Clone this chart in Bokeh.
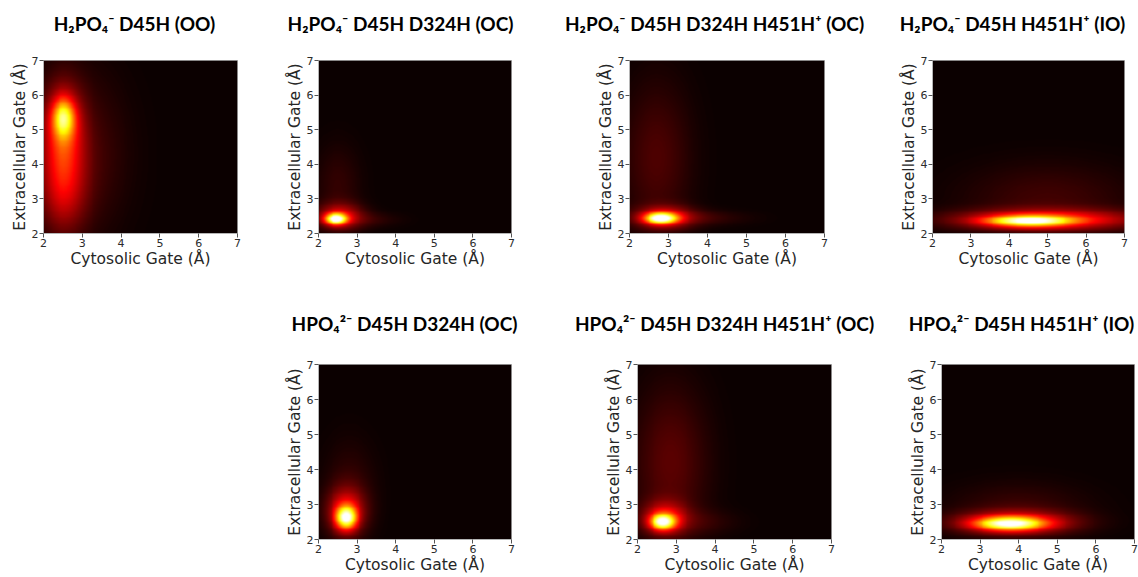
import numpy as np
from bokeh.plotting import figure
from bokeh.layouts import column, row
from bokeh.models import LinearColorMapper, FixedTicker, Label, Range1d
from bokeh.embed import file_html
from bokeh.resources import INLINE

# ---------------------------------------------------------------------------
# Data: gate-distance populations sampled in each simulation.
# Every population is (cytosolic centre, extracellular centre,
#                      cytosolic spread, extracellular spread, peak height)
# with heights on the colour scale (0 = no counts, 1 = saturated).
# ---------------------------------------------------------------------------
GATE_TICKS = [2, 3, 4, 5, 6, 7]
X_LABEL = "Cytosolic Gate (Å)"
Y_LABEL = "Extracellular Gate (Å)"

TITLES = [
    "H₂PO₄⁻ D45H (OO)",
    "H₂PO₄⁻ D45H D324H (OC)",
    "H₂PO₄⁻ D45H D324H H451H⁺ (OC)",
    "H₂PO₄⁻ D45H H451H⁺ (IO)",
    "HPO₄²⁻ D45H D324H (OC)",
    "HPO₄²⁻ D45H D324H H451H⁺ (OC)",
    "HPO₄²⁻ D45H H451H⁺ (IO)",
]

H2PO4_D45H_OO = [
    (2.52, 5.35, 0.20, 0.38, 0.48),
    (2.50, 5.00, 0.35, 0.90, 0.35),
    (2.50, 3.30, 0.40, 0.90, 0.25),
    (2.90, 4.30, 0.80, 1.60, 0.10),
]
H2PO4_D45H_D324H_OC = [
    (2.45, 2.42, 0.19, 0.11, 0.85),
    (2.55, 2.50, 0.40, 0.25, 0.30),
    (2.50, 3.40, 0.40, 0.80, 0.06),
    (3.20, 2.40, 0.60, 0.15, 0.06),
]
H2PO4_D45H_D324H_H451H_OC = [
    (2.80, 2.44, 0.28, 0.11, 0.80),
    (2.90, 2.47, 0.50, 0.22, 0.30),
    (3.60, 2.45, 0.90, 0.15, 0.08),
    (2.70, 4.20, 0.60, 1.50, 0.10),
]
H2PO4_D45H_H451H_IO = [
    (4.50, 2.36, 0.75, 0.11, 0.66),
    (5.00, 2.40, 1.60, 0.20, 0.40),
    (5.00, 3.00, 1.50, 0.70, 0.08),
]
HPO4_D45H_D324H_OC = [
    (2.72, 2.62, 0.18, 0.22, 0.72),
    (2.72, 2.80, 0.33, 0.45, 0.35),
    (2.80, 3.50, 0.45, 0.90, 0.06),
]
HPO4_D45H_D324H_H451H_OC = [
    (2.65, 2.50, 0.22, 0.15, 0.72),
    (2.70, 2.62, 0.38, 0.32, 0.32),
    (2.85, 4.20, 0.65, 1.50, 0.12),
    (3.50, 2.50, 0.70, 0.25, 0.06),
]
HPO4_D45H_H451H_IO = [
    (3.75, 2.45, 0.60, 0.13, 0.65),
    (3.90, 2.48, 1.00, 0.22, 0.40),
    (4.00, 2.90, 1.20, 0.50, 0.07),
]

POPULATIONS = [
    H2PO4_D45H_OO,
    H2PO4_D45H_D324H_OC,
    H2PO4_D45H_D324H_H451H_OC,
    H2PO4_D45H_H451H_IO,
    HPO4_D45H_D324H_OC,
    HPO4_D45H_D324H_H451H_OC,
    HPO4_D45H_H451H_IO,
]

# ---------------------------------------------------------------------------
# Page geometry (pixels)
# Each row = a title strip across the page + a row of heat-map cells.
# cell = (left, right); frame = (left, top, right, bottom) on the page;
# title = (centre x, baseline y) on the page.
# ---------------------------------------------------------------------------
PAGE_W = 1138
ROWS = [
    # (strip top, strip bottom, row bottom, panel indices)
    (0, 44, 290, [0, 1, 2, 3]),
    (290, 346, 577, [4, 5, 6]),
]
CELLS = [(0, 270), (270, 560), (560, 880), (880, 1138),
         (0, 560), (560, 890), (890, 1138)]
FRAMES = [
    (43, 58, 237, 233), (318, 58, 511, 234), (629, 60, 824, 235), (932, 59, 1124, 234),
    (318, 364, 511, 539), (637, 364, 831, 539), (941, 364, 1134, 539),
]
TITLE_POS = [
    (134, 23), (400, 23), (714, 23), (1012, 23),
    (404, 323), (724, 323), (1021, 323),
]

LO, HI = 2.0, 7.0
NBIN = 200
TITLE_PX = "19px"


def hot_palette(n=256):
    """matplotlib-style 'hot' colour map."""
    cols = []
    for t in np.linspace(0, 1, n):
        r = min(1.0, 0.0416 + (1 - 0.0416) * t / 0.365079)
        g = float(np.clip((t - 0.365079) / (0.746032 - 0.365079), 0, 1))
        b = float(np.clip((t - 0.746032) / (1 - 0.746032), 0, 1))
        cols.append("#%02x%02x%02x" % (round(r * 255), round(g * 255), round(b * 255)))
    return cols


PALETTE = hot_palette()
mapper = LinearColorMapper(palette=PALETTE, low=0.0, high=1.0)

centres = LO + (np.arange(NBIN) + 0.5) * (HI - LO) / NBIN
GX, GY = np.meshgrid(centres, centres)


def density(pops):
    d = np.zeros_like(GX)
    for cx, cy, sx, sy, h in pops:
        d += h * np.exp(-0.5 * (((GX - cx) / sx) ** 2 + ((GY - cy) / sy) ** 2))
    return np.clip(d, 0, 1)


def title_strip(top, bottom, idx):
    h = bottom - top
    s = figure(
        width=PAGE_W, height=h,
        x_range=Range1d(0, PAGE_W), y_range=Range1d(h, 0),
        x_axis_type=None, y_axis_type=None,
        min_border=0, output_backend="svg", toolbar_location=None, tools="",
    )
    s.grid.visible = False
    s.outline_line_color = None
    s.background_fill_color = "white"
    s.border_fill_color = "white"
    for i in idx:
        tx, ty = TITLE_POS[i]
        s.add_layout(Label(
            x=tx, y=ty - top, text=TITLES[i],
            text_align="center", text_baseline="alphabetic",
            text_font="Lato", text_font_style="bold", text_font_size=TITLE_PX,
            text_color="black",
        ))
    return s


def heat_panel(i, top, bottom):
    cl, cr = CELLS[i]
    fl, ft, fr, fb = FRAMES[i]
    p = figure(
        width=cr - cl, height=bottom - top,
        x_range=(LO, HI), y_range=(LO, HI),
        min_border_left=fl - cl, min_border_right=cr - fr,
        min_border_top=ft - top, min_border_bottom=bottom - fb,
        output_backend="svg", toolbar_location=None, tools="",
    )
    p.image(image=[density(POPULATIONS[i])], x=LO, y=LO, dw=HI - LO, dh=HI - LO,
            color_mapper=mapper)

    p.grid.visible = False
    p.background_fill_color = PALETTE[0]
    p.border_fill_color = "white"
    p.outline_line_color = "#b5b5b5"
    p.outline_line_width = 1

    for ax in (p.xaxis[0], p.yaxis[0]):
        ax.ticker = FixedTicker(ticks=GATE_TICKS)
        ax.minor_tick_line_color = None
        ax.major_tick_in = 0
        ax.major_tick_out = 4
        ax.major_tick_line_color = "#555555"
        ax.axis_line_color = "#b5b5b5"
        ax.major_label_text_font = "DejaVu Sans"
        ax.major_label_text_font_size = "11px"
        ax.major_label_text_color = "#2b2b2b"
        ax.major_label_standoff = 1
        ax.axis_label_text_font = "DejaVu Sans"
        ax.axis_label_text_font_size = "15.5px"
        ax.axis_label_text_font_style = "normal"
        ax.axis_label_text_color = "#262626"
        ax.axis_label_standoff = 0
    p.xaxis[0].axis_label = X_LABEL
    p.yaxis[0].axis_label = Y_LABEL
    return p


parts = []
for strip_top, strip_bottom, row_bottom, idx in ROWS:
    parts.append(title_strip(strip_top, strip_bottom, idx))
    parts.append(row(*[heat_panel(i, strip_bottom, row_bottom) for i in idx], spacing=0))

layout = column(*parts, spacing=0)

open("out.html", "w").write(file_html(layout, INLINE))
